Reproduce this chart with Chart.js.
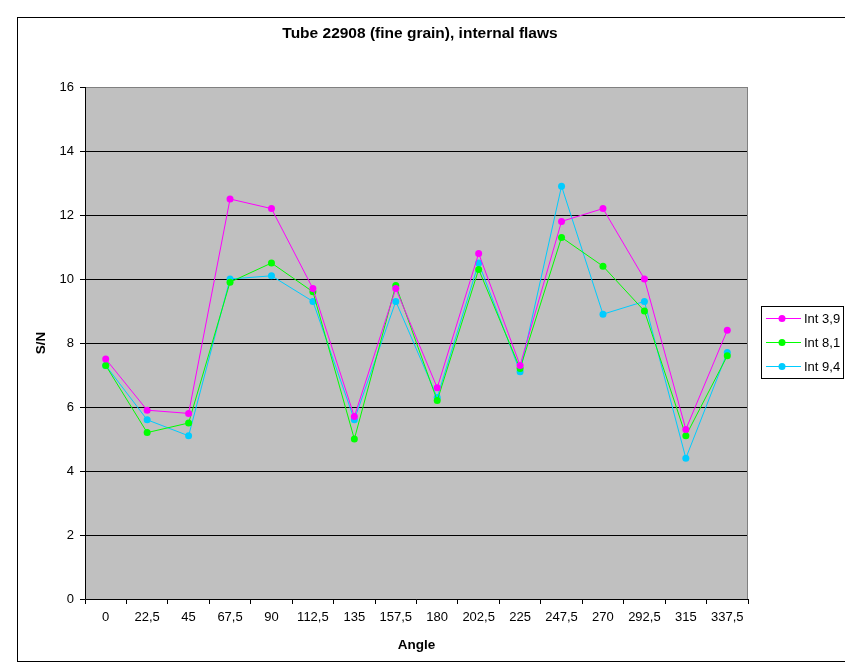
<!DOCTYPE html>
<html>
<head>
<meta charset="utf-8">
<script src="https://cdn.jsdelivr.net/npm/chart.js@4.4.1/dist/chart.umd.min.js"></script>
<style>
  html, body { margin: 0; padding: 0; background: #fff; }
  #wrap { width: 845px; height: 670px; }
</style>
</head>
<body>
<div id="wrap"><canvas id="myChart" width="845" height="670"></canvas></div>
<script>
const angles = ['0', '22,5', '45', '67,5', '90', '112,5', '135', '157,5', '180', '202,5', '225', '247,5', '270', '292,5', '315', '337,5'];
const int39 = [7.5, 5.9, 5.8, 12.5, 12.2, 9.7, 5.7, 9.7, 6.6, 10.8, 7.3, 11.8, 12.2, 10.0, 5.3, 8.4];
const int81 = [7.3, 5.2, 5.5, 9.9, 10.5, 9.6, 5.0, 9.8, 6.2, 10.3, 7.2, 11.3, 10.4, 9.0, 5.1, 7.6];
const int94 = [7.3, 5.6, 5.1, 10.0, 10.1, 9.3, 5.6, 9.3, 6.3, 10.5, 7.1, 12.9, 8.9, 9.3, 4.4, 7.7];
const yTicks = [0, 2, 4, 6, 8, 10, 12, 14, 16];
const chartTitle = 'Tube 22908 (fine grain), internal flaws';

const FONT = 'Liberation Sans, Arial, sans-serif';

// plot background, frame, title and the boxed legend
const framePlugin = {
  id: 'frame',
  beforeDraw(chart) {
    const { ctx, chartArea: a } = chart;
    ctx.save();
    ctx.fillStyle = '#fff';
    ctx.fillRect(0, 0, chart.width, chart.height);
    ctx.fillStyle = '#c0c0c0';
    ctx.fillRect(a.left, a.top, a.right - a.left, a.bottom - a.top);
    ctx.restore();
  },
  beforeDatasetsDraw(chart) {
    const { ctx, chartArea: a } = chart;
    ctx.save();
    ctx.strokeStyle = '#808080';
    ctx.lineWidth = 1;
    ctx.strokeRect(a.left + 0.5, a.top + 0.5, a.right - a.left - 1, a.bottom - a.top);
    ctx.strokeStyle = '#000';
    ctx.beginPath();
    ctx.moveTo(a.left + 0.5, a.top);
    ctx.lineTo(a.left + 0.5, a.bottom + 0.5);
    ctx.lineTo(a.right, a.bottom + 0.5);
    ctx.stroke();
    ctx.restore();
  },
  afterDraw(chart) {
    const { ctx } = chart;
    ctx.save();
    ctx.strokeStyle = '#000';
    ctx.lineWidth = 1;
    ctx.strokeRect(17.5, 17.5, 900, 644);

    ctx.fillStyle = '#000';
    ctx.font = 'bold 15.5px ' + FONT;
    ctx.textAlign = 'center';
    ctx.textBaseline = 'alphabetic';
    ctx.fillText(chartTitle, 420, 37.5);

    // legend
    ctx.strokeRect(761.5, 306.5, 82, 72);
    ctx.font = '13px ' + FONT;
    ctx.textBaseline = 'middle';
    ctx.textAlign = 'left';
    chart.data.datasets.forEach((ds, i) => {
      const y = 318.5 + i * 24;
      ctx.strokeStyle = ds.borderColor;
      ctx.beginPath();
      ctx.moveTo(766, y);
      ctx.lineTo(801, y);
      ctx.stroke();
      ctx.fillStyle = ds.backgroundColor;
      ctx.beginPath();
      ctx.arc(782, y, 3.5, 0, Math.PI * 2);
      ctx.fill();
      ctx.fillStyle = '#000';
      ctx.fillText(ds.label, 804, y + 0.5);
    });
    ctx.restore();
  }
};

const ctx = document.getElementById('myChart').getContext('2d');

const data = {
  labels: angles,
  datasets: [
    { label: 'Int 3,9', data: int39, borderColor: '#ff00ff', backgroundColor: '#ff00ff' },
    { label: 'Int 8,1', data: int81, borderColor: '#00ff00', backgroundColor: '#00ff00' },
    { label: 'Int 9,4', data: int94, borderColor: '#00ccff', backgroundColor: '#00ccff' }
  ]
};

const config = {
  type: 'line',
  data: data,
  options: {
    responsive: false,
    animation: false,
    devicePixelRatio: 1,
    layout: { padding: { left: 18, right: 97, top: 87, bottom: 8 } },
    elements: {
      line: { borderWidth: 1, tension: 0, fill: false },
      point: { radius: 3.5, borderWidth: 0, hoverRadius: 3.5 }
    },
    plugins: {
      legend: { display: false },
      tooltip: { enabled: false },
      title: { display: false }
    },
    scales: {
      x: {
        type: 'category',
        offset: true,
        grid: { display: true, offset: true, drawOnChartArea: false, drawTicks: true, tickLength: 5, color: '#000' },
        border: { display: true, color: '#000' },
        ticks: { color: '#000', font: { family: FONT, size: 13 }, padding: 6, maxRotation: 0, autoSkip: false },
        title: { display: true, text: 'Angle', color: '#000', font: { family: FONT, size: 13.5, weight: 'bold' }, padding: { top: 9, bottom: 9 } },
        afterFit(scale) { scale.height = 63; }
      },
      y: {
        min: 0,
        max: 16,
        afterBuildTicks(scale) { scale.ticks = yTicks.map(v => ({ value: v })); },
        grid: { color: '#000', tickLength: 5, drawTicks: true },
        border: { display: true, color: '#000' },
        ticks: { color: '#000', font: { family: FONT, size: 13 }, padding: 6 },
        title: { display: true, text: 'S/N', color: '#000', font: { family: FONT, size: 13.5, weight: 'bold' }, padding: { top: 15.5, bottom: 4 } },
        afterFit(scale) { scale.width = 67; }
      }
    }
  },
  plugins: [framePlugin]
};

const myChart = new Chart(ctx, config);
</script>
</body>
</html>
